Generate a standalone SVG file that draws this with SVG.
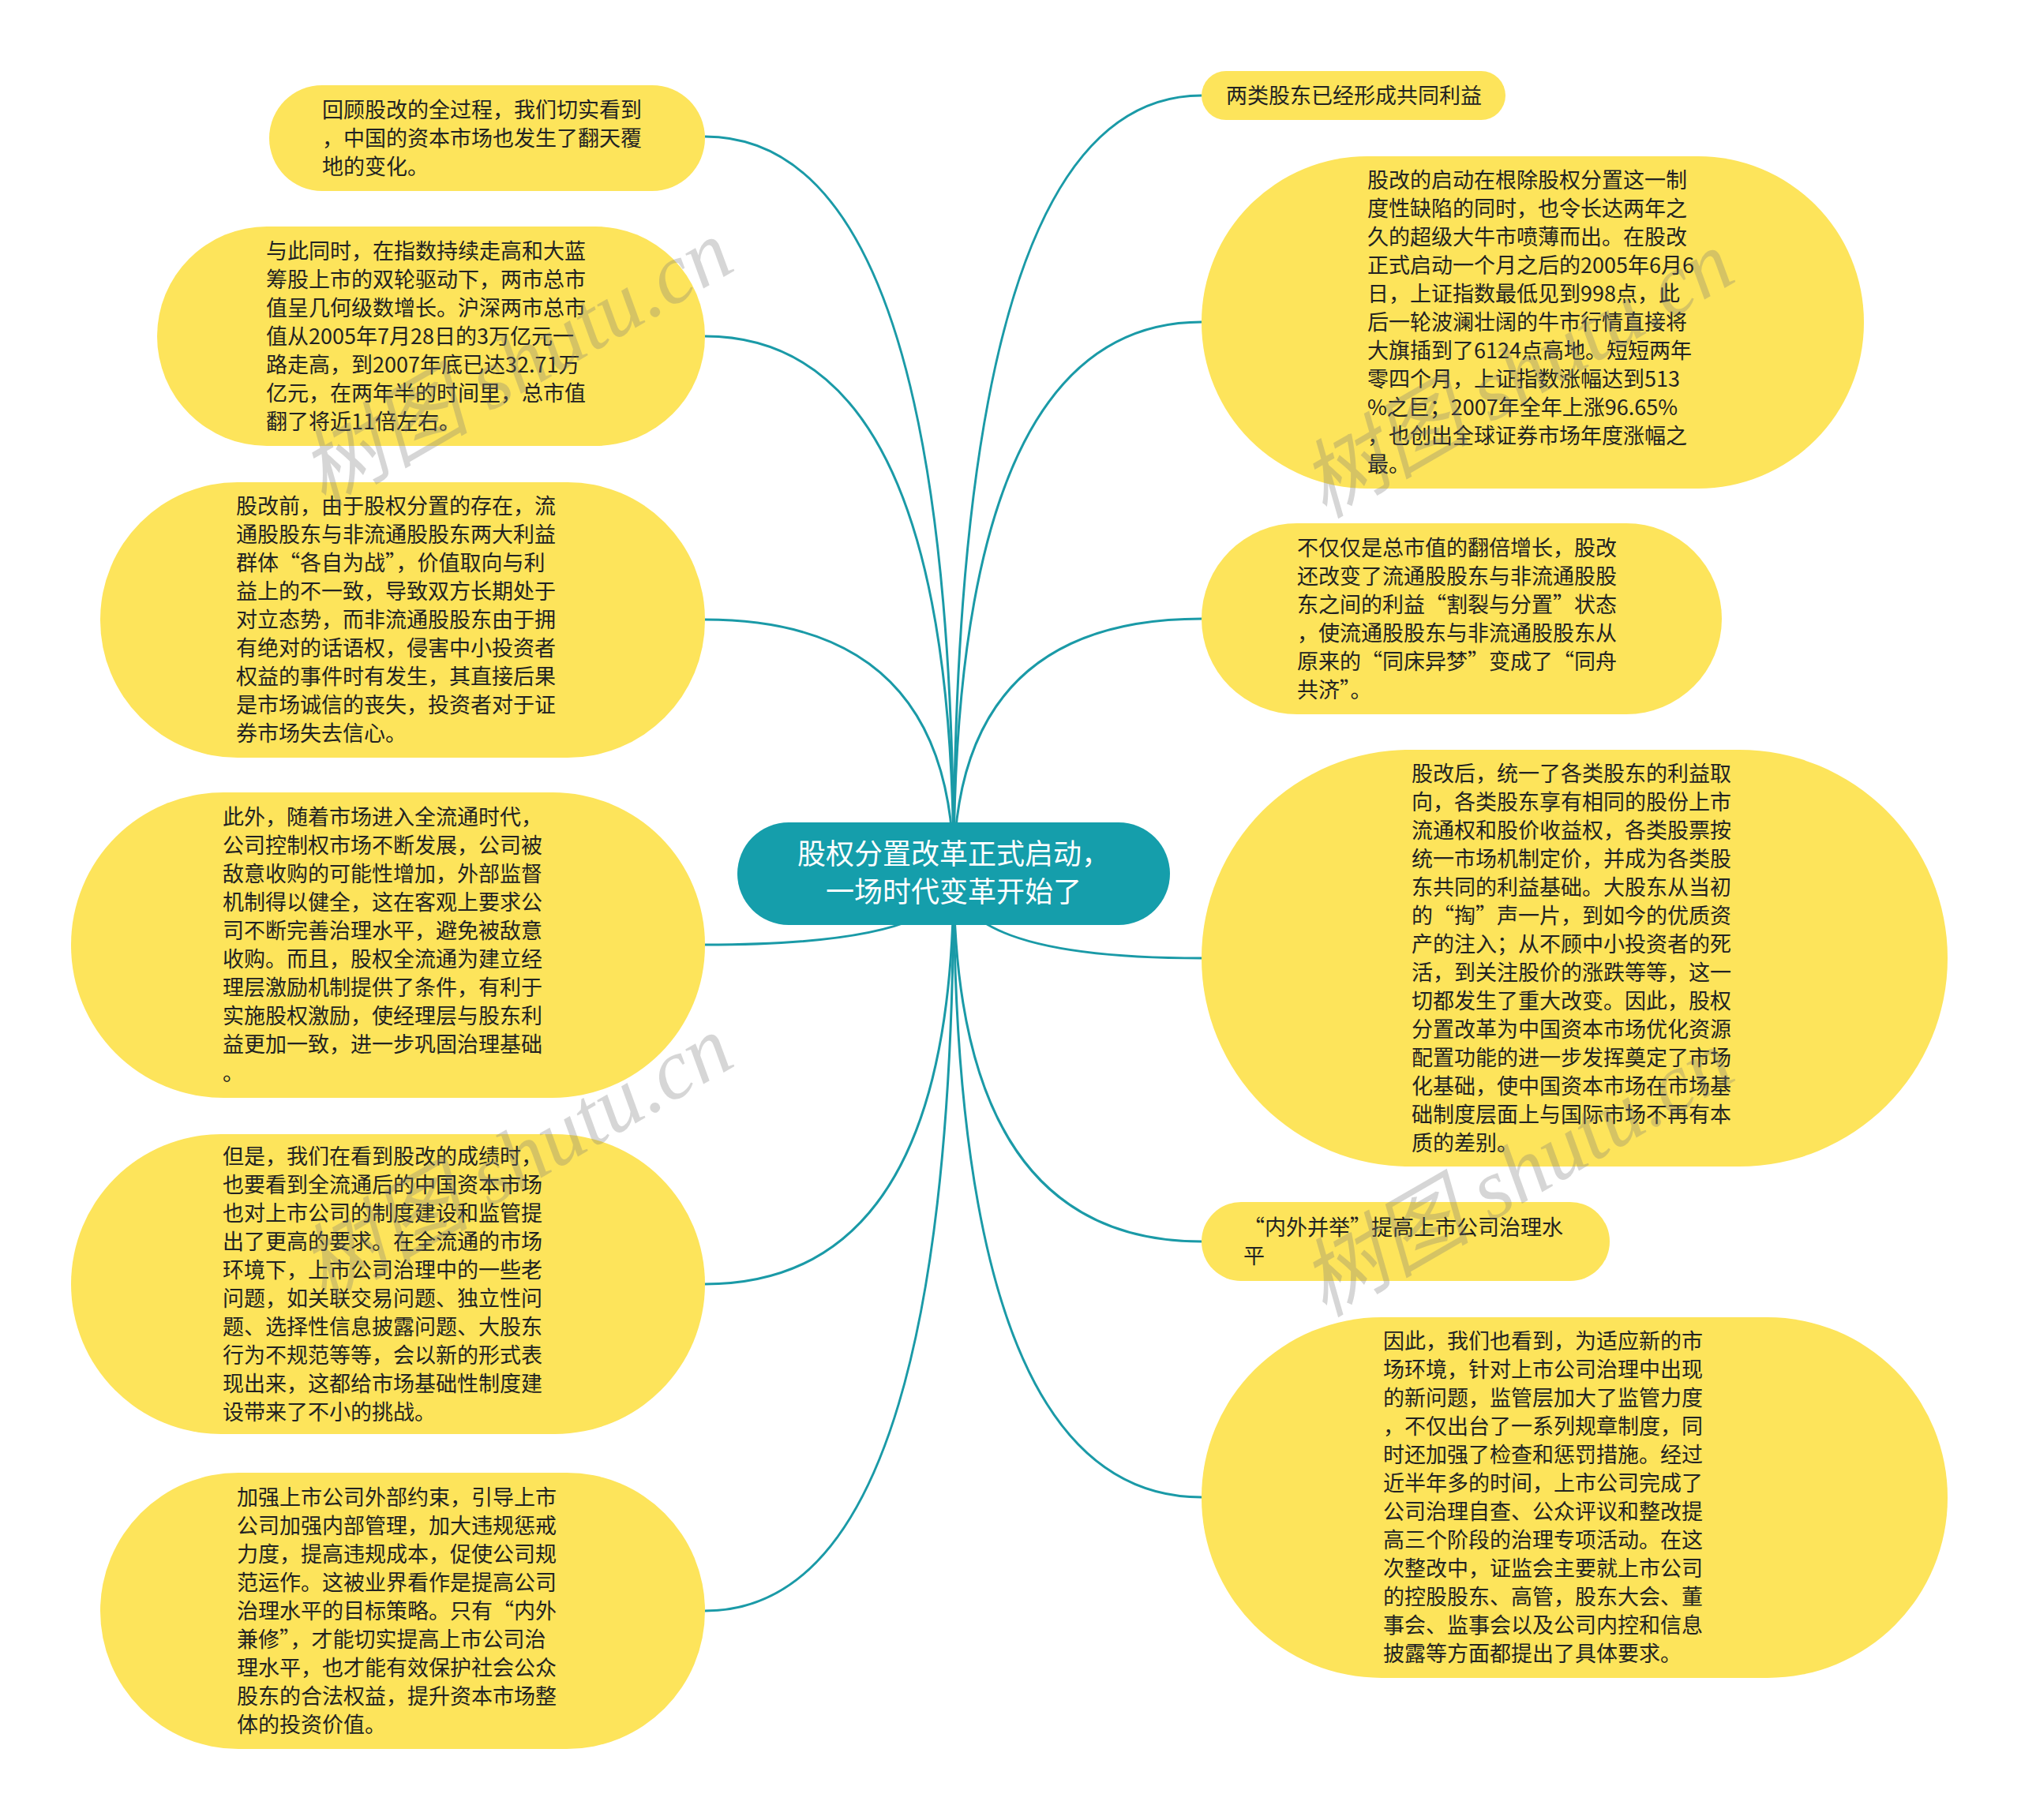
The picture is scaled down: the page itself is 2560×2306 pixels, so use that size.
<svg xmlns="http://www.w3.org/2000/svg" width="2560" height="2306" viewBox="0 0 2560 2306">
<style>
.bg{fill:#ffffff}
.leaf rect{fill:#FDE45B}
.leaf text{font-family:"Noto Sans CJK SC","Liberation Sans",sans-serif;font-size:27px;fill:#222222}
.root rect{fill:#159EAB}
.root text{font-family:"Noto Sans CJK SC","Liberation Sans",sans-serif;font-size:36px;fill:#ffffff}
.edge{fill:none;stroke:#1A9AA7;stroke-width:3}
.wm{font-family:"Liberation Serif","Noto Sans CJK SC",serif;font-style:italic;font-size:108px;fill:#7a7a7a;opacity:0.3}
</style>
<rect class="bg" x="0" y="0" width="2560" height="2306"/>
<g id="connectors">
<path class="edge" d="M1208 1107 Q1208 173 893 173"/>
<path class="edge" d="M1208 1107 Q1208 426 893 426"/>
<path class="edge" d="M1208 1107 Q1208 785 893 785"/>
<path class="edge" d="M1208 1107 Q1208 1197 893 1197"/>
<path class="edge" d="M1208 1107 Q1208 1627 893 1627"/>
<path class="edge" d="M1208 1107 Q1208 2041 893 2041"/>
<path class="edge" d="M1208 1107 Q1208 121 1522 121"/>
<path class="edge" d="M1208 1107 Q1208 408 1522 408"/>
<path class="edge" d="M1208 1107 Q1208 784 1522 784"/>
<path class="edge" d="M1208 1107 Q1208 1214 1522 1214"/>
<path class="edge" d="M1208 1107 Q1208 1573 1522 1573"/>
<path class="edge" d="M1208 1107 Q1208 1897 1522 1897"/>
</g>
<g id="root" class="root">
<rect x="934" y="1042" width="548" height="130" rx="65" ry="65"/>
<text text-anchor="middle" xml:lang="zh-CN"><tspan x="1208" y="1095">股权分置改革正式启动，</tspan><tspan x="1208" y="1143">一场时代变革开始了</tspan></text>
</g>
<g id="n1" class="leaf">
<rect x="341" y="108" width="552" height="134" rx="67" ry="67"/>
<text xml:lang="zh-CN"><tspan x="408" y="149">回顾股改的全过程，我们切实看到</tspan><tspan x="408" dy="36">，中国的资本市场也发生了翻天覆</tspan><tspan x="408" dy="36">地的变化。</tspan></text>
</g>
<g id="n2" class="leaf">
<rect x="199" y="287" width="694" height="278" rx="139" ry="139"/>
<text xml:lang="zh-CN"><tspan x="337" y="328">与此同时，在指数持续走高和大蓝</tspan><tspan x="337" dy="36">筹股上市的双轮驱动下，两市总市</tspan><tspan x="337" dy="36">值呈几何级数增长。沪深两市总市</tspan><tspan x="337" dy="36">值从2005年7月28日的3万亿元一</tspan><tspan x="337" dy="36">路走高，到2007年底已达32.71万</tspan><tspan x="337" dy="36">亿元，在两年半的时间里，总市值</tspan><tspan x="337" dy="36">翻了将近11倍左右。</tspan></text>
</g>
<g id="n3" class="leaf">
<rect x="127" y="611" width="766" height="349" rx="174" ry="174"/>
<text xml:lang="zh-CN"><tspan x="299" y="651">股改前，由于股权分置的存在，流</tspan><tspan x="299" dy="36">通股股东与非流通股股东两大利益</tspan><tspan x="299" dy="36">群体“各自为战”，价值取向与利</tspan><tspan x="299" dy="36">益上的不一致，导致双方长期处于</tspan><tspan x="299" dy="36">对立态势，而非流通股股东由于拥</tspan><tspan x="299" dy="36">有绝对的话语权，侵害中小投资者</tspan><tspan x="299" dy="36">权益的事件时有发生，其直接后果</tspan><tspan x="299" dy="36">是市场诚信的丧失，投资者对于证</tspan><tspan x="299" dy="36">券市场失去信心。</tspan></text>
</g>
<g id="n4" class="leaf">
<rect x="90" y="1004" width="803" height="387" rx="193" ry="193"/>
<text xml:lang="zh-CN"><tspan x="282" y="1045">此外，随着市场进入全流通时代，</tspan><tspan x="282" dy="36">公司控制权市场不断发展，公司被</tspan><tspan x="282" dy="36">敌意收购的可能性增加，外部监督</tspan><tspan x="282" dy="36">机制得以健全，这在客观上要求公</tspan><tspan x="282" dy="36">司不断完善治理水平，避免被敌意</tspan><tspan x="282" dy="36">收购。而且，股权全流通为建立经</tspan><tspan x="282" dy="36">理层激励机制提供了条件，有利于</tspan><tspan x="282" dy="36">实施股权激励，使经理层与股东利</tspan><tspan x="282" dy="36">益更加一致，进一步巩固治理基础</tspan><tspan x="282" dy="36">。</tspan></text>
</g>
<g id="n5" class="leaf">
<rect x="90" y="1437" width="803" height="380" rx="190" ry="190"/>
<text xml:lang="zh-CN"><tspan x="282" y="1475">但是，我们在看到股改的成绩时，</tspan><tspan x="282" dy="36">也要看到全流通后的中国资本市场</tspan><tspan x="282" dy="36">也对上市公司的制度建设和监管提</tspan><tspan x="282" dy="36">出了更高的要求。在全流通的市场</tspan><tspan x="282" dy="36">环境下，上市公司治理中的一些老</tspan><tspan x="282" dy="36">问题，如关联交易问题、独立性问</tspan><tspan x="282" dy="36">题、选择性信息披露问题、大股东</tspan><tspan x="282" dy="36">行为不规范等等，会以新的形式表</tspan><tspan x="282" dy="36">现出来，这都给市场基础性制度建</tspan><tspan x="282" dy="36">设带来了不小的挑战。</tspan></text>
</g>
<g id="n6" class="leaf">
<rect x="127" y="1866" width="766" height="350" rx="175" ry="175"/>
<text xml:lang="zh-CN"><tspan x="300" y="1907">加强上市公司外部约束，引导上市</tspan><tspan x="300" dy="36">公司加强内部管理，加大违规惩戒</tspan><tspan x="300" dy="36">力度，提高违规成本，促使公司规</tspan><tspan x="300" dy="36">范运作。这被业界看作是提高公司</tspan><tspan x="300" dy="36">治理水平的目标策略。只有“内外</tspan><tspan x="300" dy="36">兼修”，才能切实提高上市公司治</tspan><tspan x="300" dy="36">理水平，也才能有效保护社会公众</tspan><tspan x="300" dy="36">股东的合法权益，提升资本市场整</tspan><tspan x="300" dy="36">体的投资价值。</tspan></text>
</g>
<g id="n7" class="leaf">
<rect x="1522" y="90" width="385" height="62" rx="31" ry="31"/>
<text xml:lang="zh-CN"><tspan x="1553" y="131">两类股东已经形成共同利益</tspan></text>
</g>
<g id="n8" class="leaf">
<rect x="1522" y="198" width="839" height="421" rx="210" ry="210"/>
<text xml:lang="zh-CN"><tspan x="1732" y="238">股改的启动在根除股权分置这一制</tspan><tspan x="1732" dy="36">度性缺陷的同时，也令长达两年之</tspan><tspan x="1732" dy="36">久的超级大牛市喷薄而出。在股改</tspan><tspan x="1732" dy="36">正式启动一个月之后的2005年6月6</tspan><tspan x="1732" dy="36">日，上证指数最低见到998点，此</tspan><tspan x="1732" dy="36">后一轮波澜壮阔的牛市行情直接将</tspan><tspan x="1732" dy="36">大旗插到了6124点高地。短短两年</tspan><tspan x="1732" dy="36">零四个月，上证指数涨幅达到513</tspan><tspan x="1732" dy="36">%之巨；2007年全年上涨96.65%</tspan><tspan x="1732" dy="36">，也创出全球证券市场年度涨幅之</tspan><tspan x="1732" dy="36">最。</tspan></text>
</g>
<g id="n9" class="leaf">
<rect x="1522" y="663" width="659" height="242" rx="121" ry="121"/>
<text xml:lang="zh-CN"><tspan x="1643" y="704">不仅仅是总市值的翻倍增长，股改</tspan><tspan x="1643" dy="36">还改变了流通股股东与非流通股股</tspan><tspan x="1643" dy="36">东之间的利益“割裂与分置”状态</tspan><tspan x="1643" dy="36">，使流通股股东与非流通股股东从</tspan><tspan x="1643" dy="36">原来的“同床异梦”变成了“同舟</tspan><tspan x="1643" dy="36">共济”。</tspan></text>
</g>
<g id="n10" class="leaf">
<rect x="1522" y="950" width="945" height="528" rx="264" ry="264"/>
<text xml:lang="zh-CN"><tspan x="1788" y="990">股改后，统一了各类股东的利益取</tspan><tspan x="1788" dy="36">向，各类股东享有相同的股份上市</tspan><tspan x="1788" dy="36">流通权和股价收益权，各类股票按</tspan><tspan x="1788" dy="36">统一市场机制定价，并成为各类股</tspan><tspan x="1788" dy="36">东共同的利益基础。大股东从当初</tspan><tspan x="1788" dy="36">的“掏”声一片，到如今的优质资</tspan><tspan x="1788" dy="36">产的注入；从不顾中小投资者的死</tspan><tspan x="1788" dy="36">活，到关注股价的涨跌等等，这一</tspan><tspan x="1788" dy="36">切都发生了重大改变。因此，股权</tspan><tspan x="1788" dy="36">分置改革为中国资本市场优化资源</tspan><tspan x="1788" dy="36">配置功能的进一步发挥奠定了市场</tspan><tspan x="1788" dy="36">化基础，使中国资本市场在市场基</tspan><tspan x="1788" dy="36">础制度层面上与国际市场不再有本</tspan><tspan x="1788" dy="36">质的差别。</tspan></text>
</g>
<g id="n11" class="leaf">
<rect x="1522" y="1523" width="517" height="100" rx="50" ry="50"/>
<text xml:lang="zh-CN"><tspan x="1575" y="1565">“内外并举”提高上市公司治理水</tspan><tspan x="1575" dy="36">平</tspan></text>
</g>
<g id="n12" class="leaf">
<rect x="1522" y="1669" width="945" height="457" rx="228" ry="228"/>
<text xml:lang="zh-CN"><tspan x="1752" y="1709">因此，我们也看到，为适应新的市</tspan><tspan x="1752" dy="36">场环境，针对上市公司治理中出现</tspan><tspan x="1752" dy="36">的新问题，监管层加大了监管力度</tspan><tspan x="1752" dy="36">，不仅出台了一系列规章制度，同</tspan><tspan x="1752" dy="36">时还加强了检查和惩罚措施。经过</tspan><tspan x="1752" dy="36">近半年多的时间，上市公司完成了</tspan><tspan x="1752" dy="36">公司治理自查、公众评议和整改提</tspan><tspan x="1752" dy="36">高三个阶段的治理专项活动。在这</tspan><tspan x="1752" dy="36">次整改中，证监会主要就上市公司</tspan><tspan x="1752" dy="36">的控股股东、高管，股东大会、董</tspan><tspan x="1752" dy="36">事会、监事会以及公司内控和信息</tspan><tspan x="1752" dy="36">披露等方面都提出了具体要求。</tspan></text>
</g>
<g id="watermarks">
<text class="wm" text-anchor="middle" transform="translate(672 492) rotate(-30)" xml:lang="zh-CN">树图 shutu.cn</text>
<text class="wm" text-anchor="middle" transform="translate(672 1500) rotate(-30)" xml:lang="zh-CN">树图 shutu.cn</text>
<text class="wm" text-anchor="middle" transform="translate(1940 506) rotate(-30)" xml:lang="zh-CN">树图 shutu.cn</text>
<text class="wm" text-anchor="middle" transform="translate(1940 1518) rotate(-30)" xml:lang="zh-CN">树图 shutu.cn</text>
</g>
</svg>
